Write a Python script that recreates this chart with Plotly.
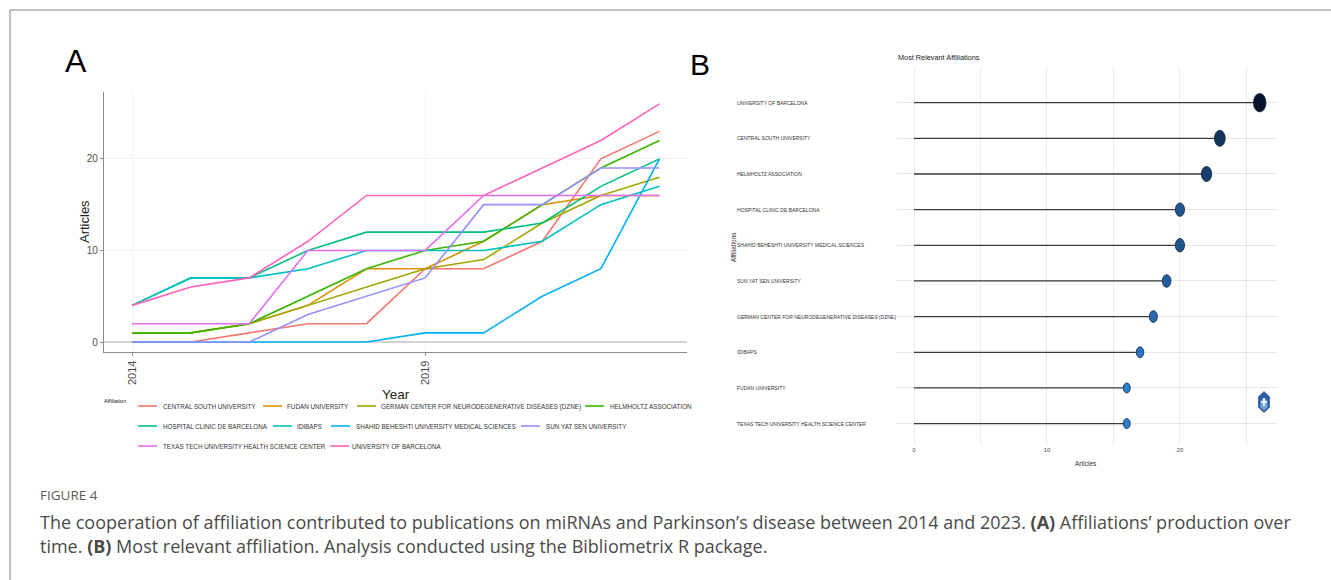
import plotly.graph_objects as go

W, H = 1331, 580

# ---- Panel A: articles per affiliation over time ----
years = list(range(2014, 2024))
affiliations = [
    "CENTRAL SOUTH UNIVERSITY",
    "FUDAN UNIVERSITY",
    "GERMAN CENTER FOR NEURODEGENERATIVE DISEASES (DZNE)",
    "HELMHOLTZ ASSOCIATION",
    "HOSPITAL CLINIC DE BARCELONA",
    "IDIBAPS",
    "SHAHID BEHESHTI UNIVERSITY MEDICAL SCIENCES",
    "SUN YAT SEN UNIVERSITY",
    "TEXAS TECH UNIVERSITY HEALTH SCIENCE CENTER",
    "UNIVERSITY OF BARCELONA",
]
central_south = [0, 0, 1, 2, 2, 8, 8, 11, 20, 23]
fudan = [1, 1, 2, 4, 8, 8, 11, 15, 16, 16]
dzne = [1, 1, 2, 4, 6, 8, 9, 13, 16, 18]
helmholtz = [1, 1, 2, 5, 8, 10, 11, 15, 19, 22]
hospital_clinic = [4, 7, 7, 10, 12, 12, 12, 13, 17, 20]
idibaps = [4, 7, 7, 8, 10, 10, 10, 11, 15, 17]
shahid_beheshti = [0, 0, 0, 0, 0, 1, 1, 5, 8, 20]
sun_yat_sen = [0, 0, 0, 3, 5, 7, 15, 15, 19, 19]
texas_tech = [2, 2, 2, 10, 10, 10, 16, 16, 16, 16]
barcelona = [4, 6, 7, 11, 16, 16, 16, 19, 22, 26]
series = [central_south, fudan, dzne, helmholtz, hospital_clinic,
          idibaps, shahid_beheshti, sun_yat_sen, texas_tech, barcelona]
hue_colors = ["#F8766D", "#D89000", "#A3A500", "#39B600", "#00BF7D",
              "#00BFC4", "#00B0F6", "#9590FF", "#E76BF3", "#FF62BC"]
year_ticks = [2014, 2019]
article_ticks = [0, 10, 20]

# ---- Panel B: most relevant affiliations ----
top_affiliations = [
    "UNIVERSITY OF BARCELONA",
    "CENTRAL SOUTH UNIVERSITY",
    "HELMHOLTZ ASSOCIATION",
    "HOSPITAL CLINIC DE BARCELONA",
    "SHAHID BEHESHTI UNIVERSITY MEDICAL SCIENCES",
    "SUN YAT SEN UNIVERSITY",
    "GERMAN CENTER FOR NEURODEGENERATIVE DISEASES (DZNE)",
    "IDIBAPS",
    "FUDAN UNIVERSITY",
    "TEXAS TECH UNIVERSITY HEALTH SCIENCE CENTER",
]
top_articles = [26, 23, 22, 20, 20, 19, 18, 17, 16, 16]

SANS = "Liberation Sans, Arial, sans-serif"
CAP = "Open Sans, Noto Sans, sans-serif"


def px(x):
    return x / W


def py(y):
    return 1 - y / H


fig = go.Figure()

for name, vals, col in zip(affiliations, series, hue_colors):
    fig.add_trace(go.Scatter(
        x=years, y=vals, mode="lines", name=name,
        line=dict(color=col, width=1.6), xaxis="x", yaxis="y",
        showlegend=False, hoverinfo="x+y+name"))

# lollipop sticks
n = len(top_affiliations)
rank_pos = [n - 1 - i for i in range(n)]
for v, yp in zip(top_articles, rank_pos):
    fig.add_trace(go.Scatter(
        x=[0, v], y=[yp, yp], mode="lines",
        line=dict(color="#3a3a3a", width=1.3),
        xaxis="x2", yaxis="y2", showlegend=False, hoverinfo="skip"))


def blend(c1, c2, t):
    a = [int(c1[i:i + 2], 16) for i in (1, 3, 5)]
    b = [int(c2[i:i + 2], 16) for i in (1, 3, 5)]
    return "#%02x%02x%02x" % tuple(round(a[k] + (b[k] - a[k]) * t) for k in range(3))


vmin, vmax = min(top_articles), max(top_articles)
shapes = []
for v, yp in zip(top_articles, rank_pos):
    t = (v - vmin) / (vmax - vmin)
    fill = blend("#2f7fcf", "#06152b", t)
    w = 7 + 5.5 * t
    h = 10 + 8.5 * t
    shapes.append(dict(
        type="circle", xref="x2", yref="y2",
        xsizemode="pixel", ysizemode="pixel",
        xanchor=v, yanchor=yp, x0=-w / 2, x1=w / 2, y0=-h / 2, y1=h / 2,
        fillcolor=fill, line=dict(color="#0b1f3a", width=0.8), layer="above"))

fig.add_trace(go.Scatter(
    x=top_articles, y=rank_pos, mode="text",
    text=[str(v) for v in top_articles],
    textfont=dict(size=5, color="white", family=SANS),
    xaxis="x2", yaxis="y2", showlegend=False, hoverinfo="skip"))

# Panel A geometry
a_x0, a_x1, a_y0, a_y1 = 104, 687, 92, 352
# Panel B geometry
b_x0, b_x1, b_y0, b_y1 = 897, 1277, 67, 445

fig.update_layout(
    width=W, height=H, margin=dict(l=0, r=0, t=0, b=0),
    paper_bgcolor="white", plot_bgcolor="white",
    xaxis=dict(domain=[px(a_x0), px(a_x1)], range=[2013.52, 2023.47],
               tickvals=year_ticks, ticktext=[str(y) for y in year_ticks],
               tickangle=-90, tickfont=dict(size=11, color="#4d4d4d", family=SANS),
               showgrid=True, gridcolor="#f3f3f3", gridwidth=1,
               showline=True, linecolor="#8c8c8c", linewidth=1.3,
               ticks="outside", ticklen=3, tickcolor="#8c8c8c",
               zeroline=False, anchor="y"),
    yaxis=dict(domain=[py(a_y1), py(a_y0)], range=[-1.09, 27.3],
               tickvals=article_ticks, tickfont=dict(size=10, color="#4d4d4d", family=SANS),
               showgrid=True, gridcolor="#f3f3f3", gridwidth=1,
               zeroline=True, zerolinecolor="#d4d4d4", zerolinewidth=1.5,
               showline=True, linecolor="#8c8c8c", linewidth=1.3,
               ticks="outside", ticklen=3, tickcolor="#8c8c8c", anchor="x"),
    xaxis2=dict(domain=[px(b_x0), px(b_x1)], range=[-1.28, 27.3],
                tickvals=[0, 5, 10, 15, 20, 25],
                ticktext=["0", "", "10", "", "20", ""],
                tickfont=dict(size=6, color="#4d4d4d", family=SANS),
                showgrid=True, gridcolor="#ebebeb", gridwidth=1,
                zeroline=False, showline=False, ticks="", anchor="y2"),
    yaxis2=dict(domain=[py(b_y1), py(b_y0)], range=[-0.6, 10.0],
                tickvals=rank_pos, showticklabels=False,
                showgrid=True, gridcolor="#e6e6e6", gridwidth=1.2,
                zeroline=False, showline=False, ticks="", anchor="x2"),
    shapes=shapes,
    showlegend=False,
)

ann = []
# panel letters
ann.append(dict(text="A", x=px(76), y=py(61), font=dict(size=32, color="black", family=SANS)))
ann.append(dict(text="B", x=px(700), y=py(65), font=dict(size=30, color="black", family=SANS)))
# panel A axis titles
ann.append(dict(text="Articles", x=px(84), y=py(222), textangle=-90,
                font=dict(size=13, color="#222", family=SANS)))
ann.append(dict(text="Year", x=px(396), y=py(394),
                font=dict(size=13.5, color="#222", family=SANS)))

# panel A legend
ann.append(dict(text="Affiliation", x=px(102), y=py(401), xanchor="left",
                font=dict(size=5.5, color="#222", family=SANS)))
legend_slots = [
    (406, 138, 162), (406, 263, 286), (406, 357, 380), (406, 585, 609),
    (426, 138, 162), (426, 273, 296), (426, 331, 355), (426, 521, 545),
    (446, 138, 162), (446, 330, 351),
]
for name, col, (ly, lx, tx) in zip(affiliations, hue_colors, legend_slots):
    fig.add_shape(type="line", xref="paper", yref="paper",
                  x0=px(lx), x1=px(lx + 19), y0=py(ly), y1=py(ly),
                  line=dict(color=col, width=1.6))
    ann.append(dict(text=name, x=px(tx - 1), y=py(ly + 0.5), xanchor="left",
                    font=dict(size=6.3, color="#333", family=SANS)))

# panel B texts
ann.append(dict(text="Most Relevant Affiliations", x=px(896), y=py(58), xanchor="left",
                font=dict(size=7.3, color="#222", family=SANS)))
for name, yp in zip(top_affiliations, rank_pos):
    ann.append(dict(text=name, x=px(735), y=yp, xref="paper", yref="y2", xanchor="left",
                    font=dict(size=5.0, color="#333", family=SANS)))
ann.append(dict(text="Affiliations", x=px(733), y=py(247), textangle=-90,
                font=dict(size=6.5, color="#333", family=SANS)))
ann.append(dict(text="Articles", x=px(1086), y=py(463),
                font=dict(size=6.5, color="#333", family=SANS)))

# caption
ann.append(dict(text="FIGURE 4", x=px(38), y=py(495), xanchor="left",
                font=dict(size=13.5, color="#5a5a5a", family=CAP)))
ann.append(dict(text="The cooperation of affiliation contributed to publications on miRNAs and Parkinson\u2019s disease between 2014 and 2023. <b>(A)</b> Affiliations\u2019 production over",
                x=px(38), y=py(522), xanchor="left",
                font=dict(size=18, color="#4a4a4a", family=CAP)))
ann.append(dict(text="time. <b>(B)</b> Most relevant affiliation. Analysis conducted using the Bibliometrix R package.",
                x=px(38), y=py(546), xanchor="left",
                font=dict(size=18, color="#4a4a4a", family=CAP)))

for a in ann:
    a.setdefault("xref", "paper")
    a.setdefault("yref", "paper")
    a.setdefault("showarrow", False)
    a.setdefault("xanchor", "center")
    a.setdefault("yanchor", "middle")
fig.update_layout(annotations=ann)

# page frame (top and left rules)
fig.add_shape(type="line", xref="paper", yref="paper", x0=px(10), x1=1, y0=py(10), y1=py(10),
              line=dict(color="#ababab", width=1.5))
fig.add_shape(type="line", xref="paper", yref="paper", x0=px(10), x1=px(10), y0=py(10), y1=0,
              line=dict(color="#ababab", width=1.5))

# small hexagonal emblem
cx, cy, hw, hh = 1264, 402, 5.5, 10.5


def hexpath(cx, cy, hw, hh):
    pts = [(cx, cy - hh), (cx + hw, cy - hh / 2), (cx + hw, cy + hh / 2),
           (cx, cy + hh), (cx - hw, cy + hh / 2), (cx - hw, cy - hh / 2)]
    return "M " + " L ".join(f"{px(a):.5f},{py(b):.5f}" for a, b in pts) + " Z"


fig.add_shape(type="path", xref="paper", yref="paper", path=hexpath(cx, cy, hw, hh),
              fillcolor="#2b5aa6", line=dict(color="#1d3f80", width=0.6))
fig.add_shape(type="path", xref="paper", yref="paper", path=hexpath(cx, cy + 2, hw - 2, hh - 4),
              fillcolor="#6fa6dc", line=dict(width=0))
fig.add_shape(type="rect", xref="paper", yref="paper",
              x0=px(cx - 0.8), x1=px(cx + 0.8), y0=py(cy + 4), y1=py(cy - 4),
              fillcolor="white", line=dict(width=0))
fig.add_shape(type="rect", xref="paper", yref="paper",
              x0=px(cx - 3), x1=px(cx + 3), y0=py(cy + 0.8), y1=py(cy - 0.8),
              fillcolor="white", line=dict(width=0))

fig.write_html("out.html")
